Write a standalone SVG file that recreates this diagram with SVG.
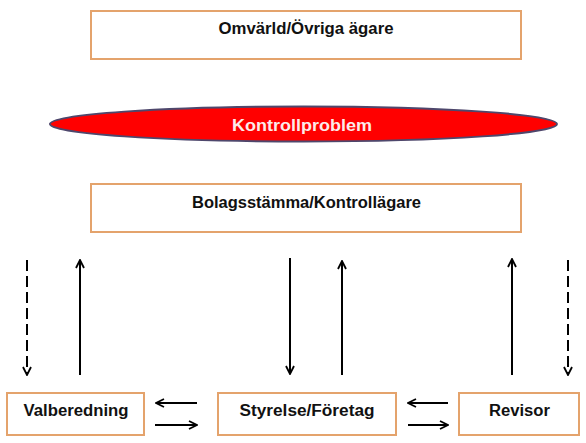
<svg xmlns="http://www.w3.org/2000/svg" width="586" height="443" viewBox="0 0 586 443">
<defs>
<marker id="ah" viewBox="0 0 10 10" refX="9" refY="5" markerWidth="10" markerHeight="10" markerUnits="userSpaceOnUse" orient="auto">
<path d="M1,1 L9,5 L1,9" fill="none" stroke="#000" stroke-width="1.8"/>
</marker>
</defs>
<style>
.box{fill:#fff;stroke:#E4A36C;stroke-width:2}
.t{font-family:"Liberation Sans",Arial,sans-serif;font-weight:bold;font-size:16px;fill:#111;text-anchor:middle}
.c{stroke:#000;stroke-width:2;fill:none;marker-end:url(#ah)}
.d{stroke-dasharray:11,5}
</style>
<rect width="586" height="443" fill="#fff"/>
<g id="omvarld">
<rect class="box" x="91" y="11" width="430" height="48"/>
<text class="t" x="306" y="34" textLength="175" lengthAdjust="spacingAndGlyphs">Omvärld/Övriga ägare</text>
</g>
<g id="kontrollproblem">
<ellipse cx="303.5" cy="124" rx="253.5" ry="17.5" fill="#FF0000" stroke="#4E476C" stroke-width="2"/>
<text class="t" x="302" y="131" textLength="140" lengthAdjust="spacingAndGlyphs" style="fill:#FCEAEA">Kontrollproblem</text>
</g>
<g id="bolagsstamma">
<rect class="box" x="91" y="184" width="430" height="48"/>
<text class="t" x="306.5" y="208" textLength="229" lengthAdjust="spacingAndGlyphs">Bolagsstämma/Kontrollägare</text>
</g>
<g id="valberedning">
<rect class="box" x="7" y="393" width="137" height="42"/>
<text class="t" x="76" y="416" textLength="105" lengthAdjust="spacingAndGlyphs">Valberedning</text>
</g>
<g id="styrelse">
<rect class="box" x="218" y="393" width="178" height="42"/>
<text class="t" x="307" y="416" textLength="135" lengthAdjust="spacingAndGlyphs">Styrelse/Företag</text>
</g>
<g id="revisor">
<rect class="box" x="459" y="393" width="120" height="42"/>
<text class="t" x="519.5" y="416" textLength="61" lengthAdjust="spacingAndGlyphs">Revisor</text>
</g>
<g id="connectors">
<line class="c d" x1="27" y1="260" x2="27" y2="375"/>
<line class="c" x1="80" y1="375" x2="80" y2="260"/>
<line class="c" x1="290" y1="258" x2="290" y2="374"/>
<line class="c" x1="342" y1="375" x2="342" y2="261"/>
<line class="c" x1="512" y1="375" x2="512" y2="259"/>
<line class="c d" x1="568" y1="260" x2="568" y2="375"/>
<line class="c" x1="197" y1="403" x2="156" y2="403"/>
<line class="c" x1="155" y1="425" x2="197" y2="425"/>
<line class="c" x1="448" y1="403" x2="408" y2="403"/>
<line class="c" x1="408" y1="425" x2="448" y2="425"/>
</g>
</svg>
